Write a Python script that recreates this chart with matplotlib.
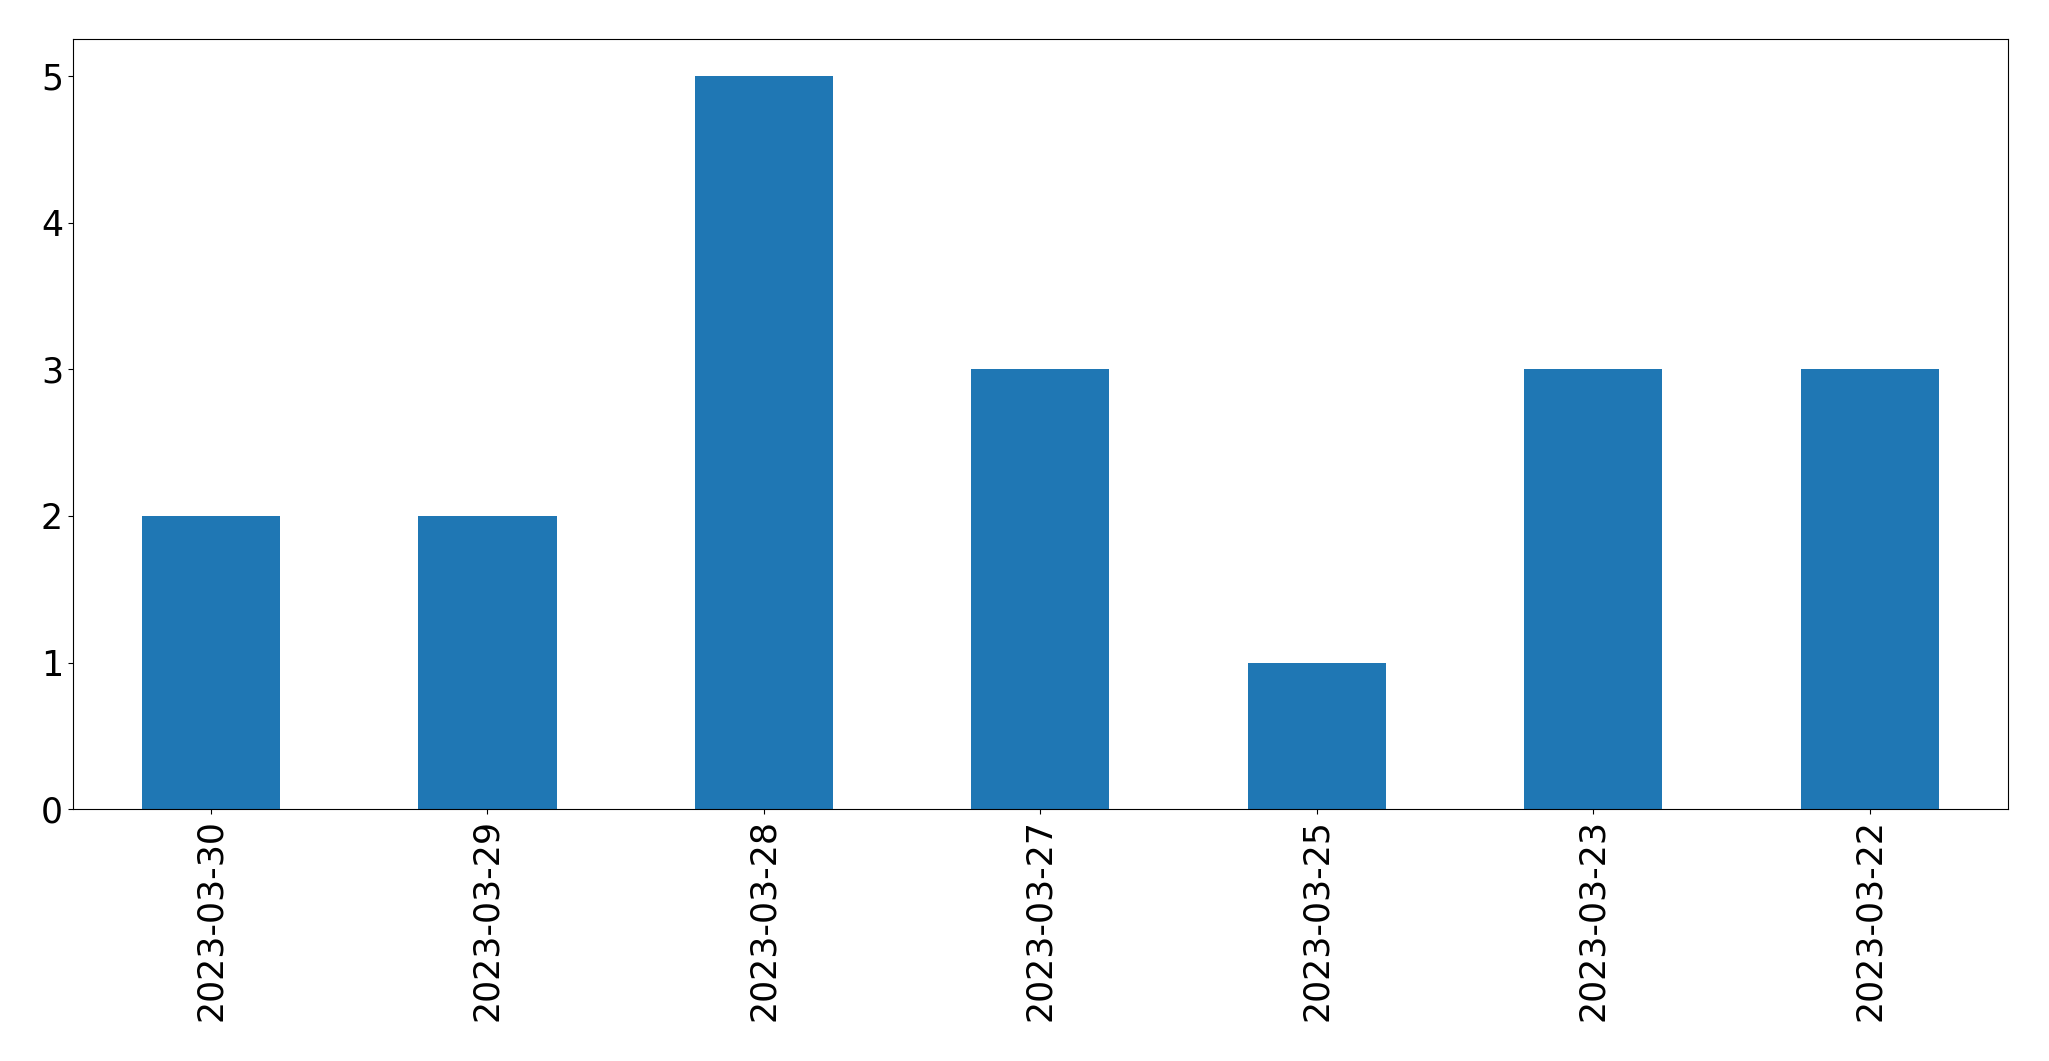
import matplotlib
matplotlib.use("Agg")
import matplotlib.pyplot as plt
import pandas as pd

dates = ["2023-03-30", "2023-03-29", "2023-03-28", "2023-03-27",
         "2023-03-25", "2023-03-23", "2023-03-22"]
counts = [2, 2, 5, 3, 1, 3, 3]

s = pd.Series(counts, index=dates)

fig, ax = plt.subplots(figsize=(20.49, 10.61), dpi=100)
s.plot(kind="bar", ax=ax, color="#1f77b4", fontsize=25)
ax.tick_params(axis="both", labelsize=25)
fig.subplots_adjust(left=0.0355, right=0.98, top=0.963, bottom=0.2372)
fig.savefig("out.png", dpi=100)
